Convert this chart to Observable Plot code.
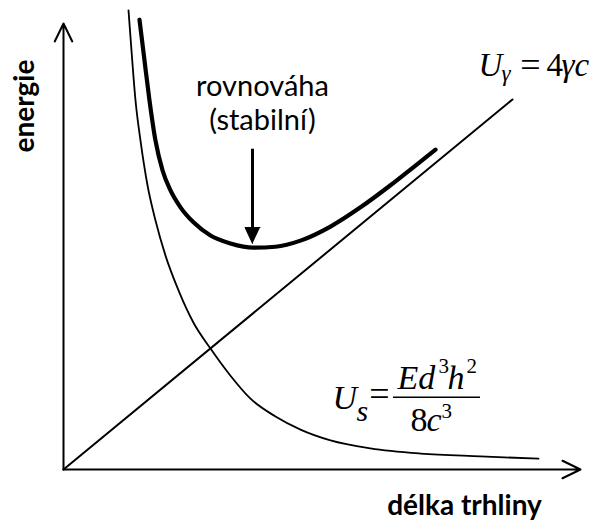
<!DOCTYPE html>
<html>
<head>
<meta charset="utf-8">
<script src="https://cdn.jsdelivr.net/npm/d3@7"></script>
<script src="https://cdn.jsdelivr.net/npm/@observablehq/plot@0.6"></script>
<style>
  html, body { margin: 0; padding: 0; background: #fff; }
</style>
</head>
<body>
<div id="chart"></div>
<script>
// Crack length c (horizontal) and energy (vertical), arbitrary units.
// Strain energy U_s ~ 1/c^3
const strainC = [13.0, 13.6, 14.4, 15.4, 16.8, 18.4, 20.4, 23.0, 26.0, 29.4, 33.4, 37.4, 42.4, 47.4, 53.4, 61.4, 71.4, 83.4, 95.0];
const strainU = [97.9, 89.3, 78.7, 70.1, 60.6, 53.1, 45.6, 38.2, 31.3, 25.8, 20.0, 15.1, 11.3, 8.5, 6.2, 4.5, 3.4, 2.8, 2.3];
// Total energy (bold curve)
const totalC = [15.2, 16.2, 17.2, 18.4, 19.8, 21.4, 23.4, 26.0, 29.4, 33.4, 38.0, 42.4, 47.4, 53.4, 59.4, 65.4, 70.4, 74.4];
const totalU = [95.9, 87.2, 78.7, 70.1, 63.8, 59.5, 55.9, 52.7, 49.9, 48.2, 47.3, 47.5, 48.8, 51.8, 55.9, 60.6, 64.8, 68.2];
// Surface energy U_gamma = 4 gamma c (straight line)
const surfaceC = [0, 89.8];
const surfaceU = [0, 78.9];
// Axis extents
const axisMaxC = 103.4;
const axisMaxU = 95.1;
// Stable equilibrium (minimum of total energy) and its pointer
const eqC = 37.8;
const eqPointerTop = 68.4;
const eqTipU = 48.2;

const zip = (xs, ys) => xs.map((x, i) => ({c: x, u: ys[i]}));
const strain = zip(strainC, strainU);
const total = zip(totalC, totalU);
const surface = zip(surfaceC, surfaceU);
const axes = [
  {x1: 0, y1: 0, x2: axisMaxC, y2: 0},
  {x1: 0, y1: 0, x2: 0, y2: axisMaxU}
];
const headPts = [
  {c: eqC, u: eqTipU},
  {c: eqC - 1.5, u: eqTipU + 3.4},
  {c: eqC + 1.5, u: eqTipU + 3.4}
];

const sans = "Lato, 'Open Sans', sans-serif";
const serif = "'Liberation Serif', 'Times New Roman', serif";

// one formula glyph group, positioned from an anchor point with pixel offsets
function piece(txt, x, y, o) {
  return Plot.text([txt], {
    x, y, text: d => d,
    fontFamily: serif,
    fontSize: o.size ?? 33,
    fontStyle: o.italic ? "italic" : "normal",
    textAnchor: o.anchor ?? "start",
    lineAnchor: "bottom",
    dx: o.dx ?? 0,
    dy: o.dy ?? 0,
    fill: "black"
  });
}

// U_gamma = 4 gamma c, anchored at the baseline of "U"
const ugX = 83.0, ugY = 84.0;
// U_s = E d^3 h^2 / 8 c^3, anchored at the baseline of "U"
const usX = 53.8, usY = 13.0;

const chart = Plot.plot({
  width: 592,
  height: 523,
  marginLeft: 63,
  marginRight: 0,
  marginTop: 0,
  marginBottom: 54,
  x: {domain: [0, 105.8], axis: null},
  y: {domain: [0, 100], axis: null},
  style: {background: "#fff"},
  marks: [
    Plot.arrow(axes, {
      x1: "x1", y1: "y1", x2: "x2", y2: "y2",
      stroke: "black", strokeWidth: 2, headLength: 15, headAngle: 52
    }),
    Plot.line(surface, {x: "c", y: "u", stroke: "black", strokeWidth: 2}),
    Plot.line(strain, {x: "c", y: "u", stroke: "black", strokeWidth: 1.8, curve: "monotone-x"}),
    Plot.line(total, {x: "c", y: "u", stroke: "black", strokeWidth: 4.2, curve: "monotone-x"}),
    Plot.link([0], {x1: eqC, y1: eqPointerTop, x2: eqC, y2: eqTipU + 3, stroke: "black", strokeWidth: 3}),
    Plot.line(headPts, {x: "c", y: "u", fill: "black", stroke: "black", strokeWidth: 1}),

    Plot.text(["rovnováha\n(stabilní)"], {
      x: 39.8, y: 72.3, text: d => d,
      fontFamily: sans, fontSize: 29, lineHeight: 1.2,
      textAnchor: "middle", lineAnchor: "bottom", fill: "black"
    }),
    Plot.text(["energie"], {
      x: -6.0, y: 77.5, text: d => d, rotate: -90,
      fontFamily: sans, fontSize: 28, fontWeight: "bold",
      textAnchor: "middle", lineAnchor: "bottom", fill: "black"
    }),
    Plot.text(["délka trhliny"], {
      x: 80.2, y: -9.8, text: d => d,
      fontFamily: sans, fontSize: 28, fontWeight: "bold",
      textAnchor: "middle", lineAnchor: "bottom", fill: "black"
    }),

    piece("U", ugX, ugY, {italic: true}),
    piece("γ", ugX, ugY, {italic: true, size: 23, dx: 23, dy: 5}),
    piece("=", ugX, ugY, {size: 36, anchor: "middle", dx: 52, dy: 1}),
    piece("4", ugX, ugY, {dx: 68}),
    piece("γc", ugX, ugY, {italic: true, dx: 83}),

    piece("U", usX, usY, {italic: true, size: 34}),
    piece("s", usX, usY, {italic: true, size: 30, dx: 24, dy: 12}),
    piece("=", usX, usY, {size: 36, anchor: "middle", dx: 47, dy: -3}),
    Plot.ruleY([15.4], {x1: 66.0, x2: 83.4, stroke: "black", strokeWidth: 1.5}),
    piece("Ed", usX, usY, {italic: true, size: 34, dx: 65, dy: -20}),
    piece("3", usX, usY, {size: 21, dx: 106, dy: -36}),
    piece("h", usX, usY, {italic: true, size: 34, dx: 115, dy: -20}),
    piece("2", usX, usY, {size: 21, dx: 134, dy: -36}),
    piece("8", usX, usY, {size: 34, dx: 78, dy: 22}),
    piece("c", usX, usY, {italic: true, size: 34, dx: 94, dy: 22}),
    piece("3", usX, usY, {size: 21, dx: 109, dy: 9})
  ]
});

document.getElementById("chart").appendChild(chart);
</script>
</body>
</html>
